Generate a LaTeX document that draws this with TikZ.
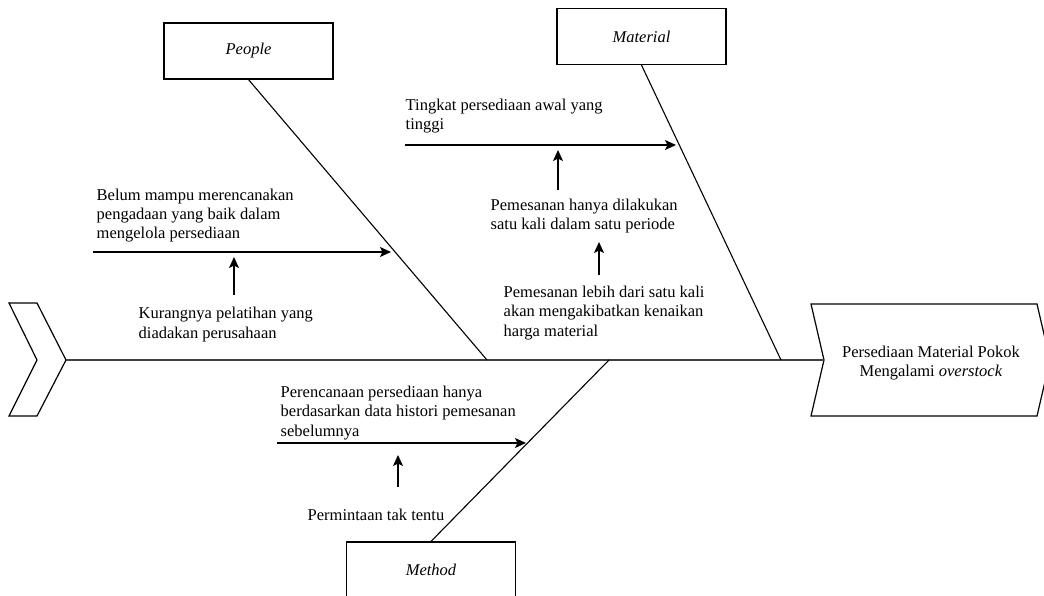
\documentclass[tikz,border=0pt]{standalone}
\usepackage{fontspec}
\setmainfont{Liberation Serif}
\usetikzlibrary{arrows.meta, positioning}

\newcommand{\fishfont}{\fontsize{16.5}{19.5}\selectfont}

\tikzset{
  category/.style={draw, line width=1.2pt, minimum width=169pt, minimum height=56pt, inner sep=0pt, font=\fishfont\itshape},
  cause/.style={anchor=base west, align=left, inner sep=0pt},
  bone/.style={line width=1.1pt},
  spine/.style={line width=1.8pt, draw=black!75}
}

\begin{document}
\begin{tikzpicture}[x=1pt,y=-1pt,>={Stealth[length=11pt,width=10pt,inset=2.5pt]},
    font=\fishfont, line width=1.4pt]
  \useasboundingbox (0,0) rectangle (1044,596);

  % tail and head of the fish
  \draw[line width=1.2pt] (9,303) -- (37,303) -- (66,360) -- (37,416) -- (9,416) -- (37,360) -- cycle;
  \draw[line width=1.2pt] (811,304) -- (1037,304) -- (1050,360) -- (1037,416) -- (811,416) -- (824,360) -- cycle;
  \coordinate (tail) at (66,360);
  \coordinate (head) at (824,360);
  \node[align=center] (effect) at (931,363) {Persediaan Material Pokok\\Mengalami \textit{overstock}};

  % categories
  \node[category] (people) at (248.5,51) {People};
  \node[category] (material) at (641.5,36.5) {Material};
  \node[category] (method) at (431,570) {Method};
  \coordinate (jp) at (487,360);
  \coordinate (jm) at (781,360);
  \coordinate (jd) at (609,360);

  \draw[spine] (tail) -- (head);
  \draw[bone] (people.south) -- (jp);
  \draw[bone] (material.south) -- (jm);
  \draw[bone] (method.north) -- (jd);

  % causes (anchored at the baseline of their last line)
  \node[cause] (belum) at (96,239) {Belum mampu merencanakan\\pengadaan yang baik dalam\\mengelola persediaan};
  \node[cause] (kurang) at (138,338) {Kurangnya pelatihan yang\\diadakan perusahaan};
  \node[cause] (tingkat) at (405,130) {Tingkat persediaan awal yang\\tinggi};
  \node[cause] (sekali) at (490,229.5) {Pemesanan hanya dilakukan\\satu kali dalam satu periode};
  \node[cause] (lebih) at (503,336) {Pemesanan lebih dari satu kali\\akan mengakibatkan kenaikan\\harga material};
  \node[cause] (histori) at (280,436) {Perencanaan persediaan hanya\\berdasarkan data histori pemesanan\\sebelumnya};
  \node[cause] (tentu) at (307,520) {Permintaan tak tentu};

  \coordinate (a1) at (93,252);   \coordinate (b1) at (391,252);
  \coordinate (a2) at (405,145);  \coordinate (b2) at (676,145);
  \coordinate (a3) at (277,443);  \coordinate (b3) at (526,443);
  \coordinate (s1) at (234,295);  \coordinate (t1) at (234,257);
  \coordinate (s2) at (558,190);  \coordinate (t2) at (558,150);
  \coordinate (s3) at (599,275);  \coordinate (t3) at (599,242);
  \coordinate (s4) at (398,487);  \coordinate (t4) at (398,455);

  \path[->]
    (a1) edge (b1)
    (a2) edge (b2)
    (a3) edge (b3)
    (s1) edge (t1)
    (s2) edge (t2)
    (s3) edge (t3)
    (s4) edge (t4);
\end{tikzpicture}
\end{document}
